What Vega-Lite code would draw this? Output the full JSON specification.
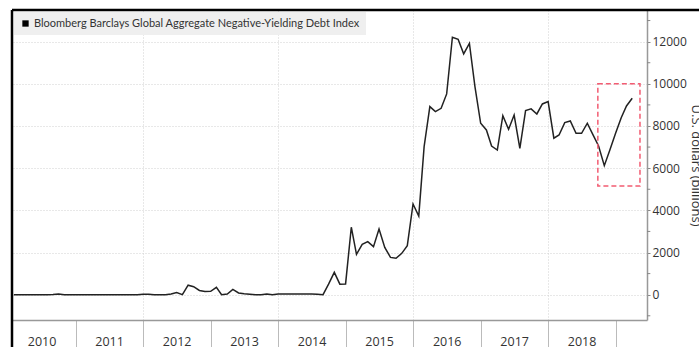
{
  "$schema": "https://vega.github.io/schema/vega-lite/v6.json",
  "width": 635,
  "height": 310,
  "autosize": {"type": "none"},
  "padding": {"left": 12, "top": 10, "right": 52, "bottom": 27},
  "background": "white",
  "config": {"view": {"stroke": null}},
  "datasets": {
    "debt": [
      {"date": "2010-02-01", "value": 0}, {"date": "2010-03-01", "value": 0}, {"date": "2010-04-01", "value": 0},
      {"date": "2010-05-01", "value": 0}, {"date": "2010-06-01", "value": 0}, {"date": "2010-07-01", "value": 0},
      {"date": "2010-08-01", "value": 0}, {"date": "2010-09-01", "value": 10}, {"date": "2010-10-01", "value": 30},
      {"date": "2010-11-01", "value": 0}, {"date": "2010-12-01", "value": 0}, {"date": "2011-01-01", "value": 0},
      {"date": "2011-02-01", "value": 0}, {"date": "2011-03-01", "value": 0}, {"date": "2011-04-01", "value": 0},
      {"date": "2011-05-01", "value": 0}, {"date": "2011-06-01", "value": 0}, {"date": "2011-07-01", "value": 0},
      {"date": "2011-08-01", "value": 0}, {"date": "2011-09-01", "value": 0}, {"date": "2011-10-01", "value": 0},
      {"date": "2011-11-01", "value": 0}, {"date": "2011-12-01", "value": 0}, {"date": "2012-01-01", "value": 20},
      {"date": "2012-02-01", "value": 20}, {"date": "2012-03-01", "value": 0}, {"date": "2012-04-01", "value": 0},
      {"date": "2012-05-01", "value": 0}, {"date": "2012-06-01", "value": 30}, {"date": "2012-07-01", "value": 100},
      {"date": "2012-08-01", "value": 0}, {"date": "2012-09-01", "value": 450}, {"date": "2012-10-01", "value": 380},
      {"date": "2012-11-01", "value": 200}, {"date": "2012-12-01", "value": 150}, {"date": "2013-01-01", "value": 160},
      {"date": "2013-02-01", "value": 350}, {"date": "2013-03-01", "value": 0}, {"date": "2013-04-01", "value": 30},
      {"date": "2013-05-01", "value": 250}, {"date": "2013-06-01", "value": 80}, {"date": "2013-07-01", "value": 40},
      {"date": "2013-08-01", "value": 20}, {"date": "2013-09-01", "value": 0}, {"date": "2013-10-01", "value": 0},
      {"date": "2013-11-01", "value": 30}, {"date": "2013-12-01", "value": 0}, {"date": "2014-01-01", "value": 30},
      {"date": "2014-02-01", "value": 30}, {"date": "2014-03-01", "value": 30}, {"date": "2014-04-01", "value": 30},
      {"date": "2014-05-01", "value": 30}, {"date": "2014-06-01", "value": 30}, {"date": "2014-07-01", "value": 30},
      {"date": "2014-08-01", "value": 20}, {"date": "2014-09-01", "value": 0}, {"date": "2014-10-01", "value": 500},
      {"date": "2014-11-01", "value": 1060}, {"date": "2014-12-01", "value": 500}, {"date": "2015-01-01", "value": 510},
      {"date": "2015-02-01", "value": 3200}, {"date": "2015-03-01", "value": 1915}, {"date": "2015-04-01", "value": 2390},
      {"date": "2015-05-01", "value": 2515}, {"date": "2015-06-01", "value": 2280}, {"date": "2015-07-01", "value": 3115},
      {"date": "2015-08-01", "value": 2245}, {"date": "2015-09-01", "value": 1770}, {"date": "2015-10-01", "value": 1725},
      {"date": "2015-11-01", "value": 1960}, {"date": "2015-12-01", "value": 2325}, {"date": "2016-01-01", "value": 4300},
      {"date": "2016-02-01", "value": 3730}, {"date": "2016-03-01", "value": 7020}, {"date": "2016-04-01", "value": 8920},
      {"date": "2016-05-01", "value": 8680}, {"date": "2016-06-01", "value": 8840}, {"date": "2016-07-01", "value": 9520},
      {"date": "2016-08-01", "value": 12210}, {"date": "2016-09-01", "value": 12110}, {"date": "2016-10-01", "value": 11420},
      {"date": "2016-11-01", "value": 11920}, {"date": "2016-12-01", "value": 9870}, {"date": "2017-01-01", "value": 8130},
      {"date": "2017-02-01", "value": 7810}, {"date": "2017-03-01", "value": 7050}, {"date": "2017-04-01", "value": 6860},
      {"date": "2017-05-01", "value": 8490}, {"date": "2017-06-01", "value": 7845}, {"date": "2017-07-01", "value": 8520},
      {"date": "2017-08-01", "value": 6940}, {"date": "2017-09-01", "value": 8730}, {"date": "2017-10-01", "value": 8810},
      {"date": "2017-11-01", "value": 8570}, {"date": "2017-12-01", "value": 9045}, {"date": "2018-01-01", "value": 9155},
      {"date": "2018-02-01", "value": 7420}, {"date": "2018-03-01", "value": 7575}, {"date": "2018-04-01", "value": 8160},
      {"date": "2018-05-01", "value": 8240}, {"date": "2018-06-01", "value": 7655}, {"date": "2018-07-01", "value": 7655},
      {"date": "2018-08-01", "value": 8130}, {"date": "2018-09-01", "value": 7575}, {"date": "2018-10-01", "value": 7050},
      {"date": "2018-11-01", "value": 6120}, {"date": "2018-12-01", "value": 6860}, {"date": "2019-01-01", "value": 7655},
      {"date": "2019-02-01", "value": 8400}, {"date": "2019-03-01", "value": 8950}, {"date": "2019-04-01", "value": 9315}
    ],
    "highlight": [
      {"start": "2018-09-27", "end": "2019-05-13", "low": 5150, "high": 10000}
    ],
    "minorTicks": [
      {"v": -1000}, {"v": 1000}, {"v": 3000}, {"v": 5000}, {"v": 7000}, {"v": 9000}, {"v": 11000}, {"v": 13000}
    ]
  },
  "layer": [
    {
      "data": {"name": "debt"},
      "mark": {"type": "line", "color": "#222222", "strokeWidth": 1.5, "clip": true},
      "encoding": {
        "x": {
          "field": "date", "type": "temporal",
          "scale": {"type": "utc", "domain": [{"year": 2010, "month": 1, "date": 22, "utc": true}, {"year": 2019, "month": 6, "date": 20, "utc": true}]},
          "axis": {
            "title": null,
            "values": [{"year": 2011, "utc": true}, {"year": 2012, "utc": true}, {"year": 2013, "utc": true}, {"year": 2014, "utc": true}, {"year": 2015, "utc": true}, {"year": 2016, "utc": true}, {"year": 2017, "utc": true}, {"year": 2018, "utc": true}, {"year": 2019, "utc": true}],
            "labelExpr": "'' + (utcyear(datum.value) - 1)",
            "labelOffset": -34,
            "labelPadding": -15,
            "labelBaseline": "top",
            "tickSize": 30,
            "tickColor": "#bbbbbb",
            "tickWidth": 1,
            "domainColor": "#999999",
            "domainWidth": 1.5,
            "grid": true,
            "gridColor": "#d0d0d0",
            "gridDash": [1, 2],
            "gridOpacity": {"condition": {"test": "utcyear(datum.value) % 2 === 0", "value": 1}, "value": 0},
            "labelFont": "Open Sans",
            "labelFontSize": 12.5,
            "labelColor": "#333333",
            "labelOverlap": false,
            "labelFlush": false,
            "labelBound": false
          }
        },
        "y": {
          "field": "value", "type": "quantitative",
          "scale": {"domain": [-1200, 13500], "nice": false, "zero": false},
          "axis": {
            "orient": "right",
            "title": "U.S. dollars (billions)",
            "values": [0, 2000, 4000, 6000, 8000, 10000, 12000],
            "format": "d",
            "tickSize": 3,
            "tickColor": "#888888",
            "domainColor": "#999999",
            "domainWidth": 1.5,
            "grid": true,
            "gridColor": "#d0d0d0",
            "gridDash": [1, 2],
            "labelPadding": 2,
            "labelFont": "Open Sans",
            "labelFontSize": 12,
            "labelColor": "#333333",
            "labelOverlap": false,
            "labelFlush": false,
            "labelBound": false,
            "titleAngle": 90,
            "titleFont": "Open Sans",
            "titleFontSize": 13,
            "titleFontWeight": "normal",
            "titleColor": "#333333",
            "titlePadding": 2
          }
        },
        "color": {
          "datum": "Bloomberg Barclays Global Aggregate Negative-Yielding Debt Index",
          "scale": {"range": ["#222222"]},
          "legend": {
            "orient": "top-left",
            "offset": 2,
            "title": null,
            "fillColor": "#efefef",
            "padding": 6,
            "symbolType": "square",
            "symbolSize": 40,
            "symbolFillColor": "#000000",
            "symbolStrokeColor": "#000000",
            "symbolStrokeWidth": 0,
            "labelFont": "Lato",
            "labelFontSize": 11,
            "labelColor": "#333333",
            "labelOffset": 3,
            "labelLimit": 500
          }
        }
      }
    },
    {
      "data": {"name": "highlight"},
      "mark": {"type": "rect", "fill": null, "fillOpacity": 0, "stroke": "#f25c72", "strokeWidth": 1.5, "strokeDash": [5, 3]},
      "encoding": {
        "x": {"field": "start", "type": "temporal"},
        "x2": {"field": "end"},
        "y": {"field": "high", "type": "quantitative"},
        "y2": {"field": "low"}
      }
    },
    {
      "data": {"name": "minorTicks"},
      "mark": {"type": "rule", "color": "#888888", "strokeWidth": 1, "clip": false},
      "encoding": {
        "x": {"datum": {"year": 2019, "month": 6, "date": 20, "utc": true}, "type": "temporal"},
        "x2": {"datum": {"year": 2019, "month": 7, "date": 8, "utc": true}},
        "y": {"field": "v", "type": "quantitative"}
      }
    },
    {
      "data": {"values": [{}]},
      "mark": {"type": "rule", "color": "#000000", "strokeWidth": 2.5, "clip": false},
      "encoding": {
        "x": {"datum": {"year": 2010, "month": 1, "date": 22, "utc": true}, "type": "temporal"},
        "x2": {"datum": {"year": 2020, "month": 4, "date": 1, "utc": true}},
        "y": {"datum": 13500, "type": "quantitative"}
      }
    },
    {
      "data": {"values": [{}]},
      "mark": {"type": "rule", "color": "#000000", "strokeWidth": 2.5, "clip": false},
      "encoding": {
        "x": {"datum": {"year": 2010, "month": 1, "date": 22, "utc": true}, "type": "temporal"},
        "y": {"datum": 13500, "type": "quantitative"},
        "y2": {"datum": -3000}
      }
    }
  ]
}
